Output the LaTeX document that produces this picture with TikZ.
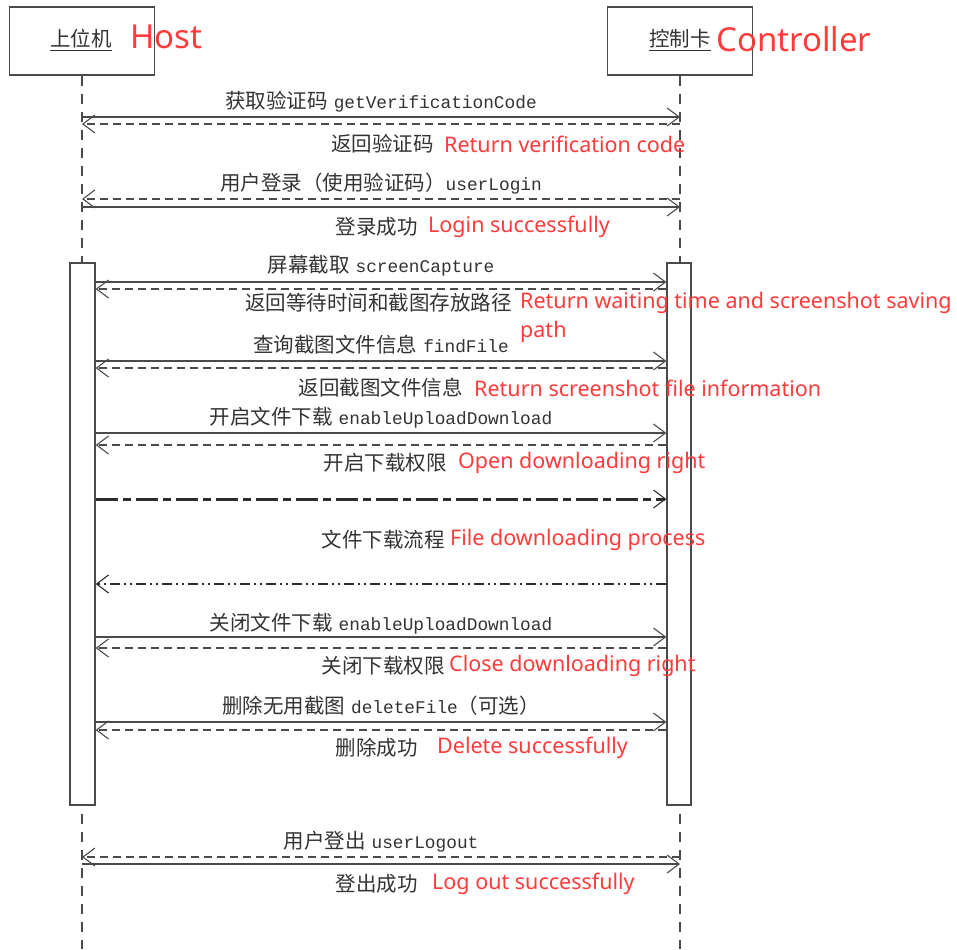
\documentclass[tikz,border=0pt]{standalone}
\usepackage{fontspec}
\newfontfamily\cjk{Noto Sans CJK SC}
\newfontfamily\monof{Liberation Mono}
\newfontfamily\redf{Noto Sans}
\usetikzlibrary{arrows.meta}
\definecolor{ln}{HTML}{4A4A4A}
\definecolor{tx}{HTML}{333333}
\definecolor{rd}{HTML}{FF3B3B}
\newcommand{\mcode}[1]{{\monof\fontsize{17.8}{22}\selectfont #1}}
\newcommand{\gapsp}{\hspace{6pt}}
\begin{document}
\begin{tikzpicture}[x=1pt,y=-1pt,
  barb/.style={-{Straight Barb[length=12pt,width=18pt,line width=1.1pt]}},
  lifebox/.style={draw=ln, line width=1.3pt, fill=white, minimum width=145pt, minimum height=68pt, inner sep=0pt},
  lifeline/.style={draw=ln, line width=1.3pt, dash pattern=on 10pt off 8pt},
  actbar/.style={draw=ln, line width=1.3pt, fill=white, minimum width=25pt, minimum height=542pt, inner sep=0pt},
  callmsg/.style={draw=ln, line width=1.2pt, barb},
  retmsg/.style={draw=ln, line width=1.2pt, dash pattern=on 8pt off 5pt, barb},
  dlmsg/.style={draw=ln!60!black, line width=3pt, dash pattern=on 22pt off 5pt on 8pt off 5pt, barb},
  drmsg/.style={draw=ln!60!black, line width=2.5pt, dash pattern=on 10pt off 4pt on 2pt off 4pt on 2pt off 4pt, barb},
  lbl/.style={text=tx, inner sep=0pt, font=\cjk\fontsize{20.5}{24}\selectfont},
  retlbl/.style={lbl, anchor=east},
  redlbl/.style={text=rd, inner sep=0pt, anchor=west, align=left, font=\redf\fontsize{21.5}{29}\selectfont},
  bigred/.style={text=rd, inner sep=0pt, anchor=west, font=\redf\fontsize{33}{40}\selectfont}
]
\useasboundingbox (0,0) rectangle (957,949);
\fill[white] (0,0) rectangle (957,949);

% lifeline heads
\node[lifebox] (host) at (82,41) {};
\node[lifebox] (ctrl) at (680,41) {};
\node[lbl] (hostname) at (81,40) {\underline{上位机}};
\node[lbl] (ctrlname) at (680,40) {\underline{控制卡}};
\node[bigred] (hosten) at (130,37) {Host};
\node[bigred] (ctrlen) at (716,39) {Controller};

% lifelines
\coordinate (hostend) at (82,949);
\coordinate (ctrlend) at (680,949);
\draw[lifeline] (host.south) -- (hostend);
\draw[lifeline] (ctrl.south) -- (ctrlend);

% activation bars
\node[actbar] (hbar) at (82.5,534) {};
\node[actbar, minimum width=24pt] (cbar) at (679,534) {};

% 1 getVerificationCode
\draw[callmsg] (host.south |- 0,117) -- (ctrl.south |- 0,117);
\draw[retmsg] (ctrl.south |- 0,124) -- (host.south |- 0,124);
\node[lbl] (m1) at (381,102) {获取验证码\gapsp\mcode{getVerificationCode}};
\node[retlbl] (r1) at (434,144) {返回验证码};
\node[redlbl] (e1) at (444,144) {Return verification code};

% 2 userLogin
\draw[retmsg] (ctrl.south |- 0,199) -- (host.south |- 0,199);
\draw[callmsg] (host.south |- 0,207) -- (ctrl.south |- 0,207);
\node[lbl] (m2) at (381,184) {用户登录（使用验证码）\mcode{userLogin}};
\node[retlbl] (r2) at (418,227) {登录成功};
\node[redlbl] (e2) at (428,227) {Login successfully};

% 3 screenCapture
\draw[callmsg] (hbar.east |- 0,282) -- (cbar.west |- 0,282);
\draw[retmsg] (cbar.west |- 0,289) -- (hbar.east |- 0,289);
\node[lbl] (m3) at (381,266) {屏幕截取\gapsp\mcode{screenCapture}};
\node[retlbl] (r3) at (512,303) {返回等待时间和截图存放路径};
\node[redlbl] (e3) at (520,317.5) {Return waiting time and screenshot saving\\path};

% 4 findFile
\draw[callmsg] (hbar.east |- 0,361) -- (cbar.west |- 0,361);
\draw[retmsg] (cbar.west |- 0,368) -- (hbar.east |- 0,368);
\node[lbl] (m4) at (381,345) {查询截图文件信息\gapsp\mcode{findFile}};
\node[retlbl] (r4) at (463,388) {返回截图文件信息};
\node[redlbl] (e4) at (474,388) {Return screenshot file information};

% 5 enableUploadDownload (open)
\draw[callmsg] (hbar.east |- 0,433) -- (cbar.west |- 0,433);
\draw[retmsg] (cbar.west |- 0,445) -- (hbar.east |- 0,445);
\node[lbl] (m5) at (381,418) {开启文件下载\gapsp\mcode{enableUploadDownload}};
\node[retlbl] (r5) at (447,463) {开启下载权限};
\node[redlbl] (e5) at (458,463) {Open downloading right};

% 6 download process
\draw[dlmsg] (hbar.east |- 0,499) -- (cbar.west |- 0,499);
\draw[drmsg] (cbar.west |- 0,584) -- (hbar.east |- 0,584);
\node[retlbl] (r6) at (445,540) {文件下载流程};
\node[redlbl] (e6) at (450,540) {File downloading process};

% 7 enableUploadDownload (close)
\draw[callmsg] (hbar.east |- 0,637) -- (cbar.west |- 0,637);
\draw[retmsg] (cbar.west |- 0,648) -- (hbar.east |- 0,648);
\node[lbl] (m7) at (381,624) {关闭文件下载\gapsp\mcode{enableUploadDownload}};
\node[retlbl] (r7) at (445,666) {关闭下载权限};
\node[redlbl] (e7) at (449,666) {Close downloading right};

% 8 deleteFile
\draw[callmsg] (hbar.east |- 0,722) -- (cbar.west |- 0,722);
\draw[retmsg] (cbar.west |- 0,730) -- (hbar.east |- 0,730);
\node[lbl] (m8) at (381,706) {删除无用截图\gapsp\mcode{deleteFile}（可选）};
\node[retlbl] (r8) at (418,748) {删除成功};
\node[redlbl] (e8) at (437,748) {Delete successfully};

% 9 userLogout
\draw[retmsg] (ctrl.south |- 0,857) -- (host.south |- 0,857);
\draw[callmsg] (host.south |- 0,864) -- (ctrl.south |- 0,864);
\node[lbl] (m9) at (381,842) {用户登出\gapsp\mcode{userLogout}};
\node[retlbl] (r9) at (418,884) {登出成功};
\node[redlbl] (e9) at (432,884) {Log out successfully};
\end{tikzpicture}
\end{document}
